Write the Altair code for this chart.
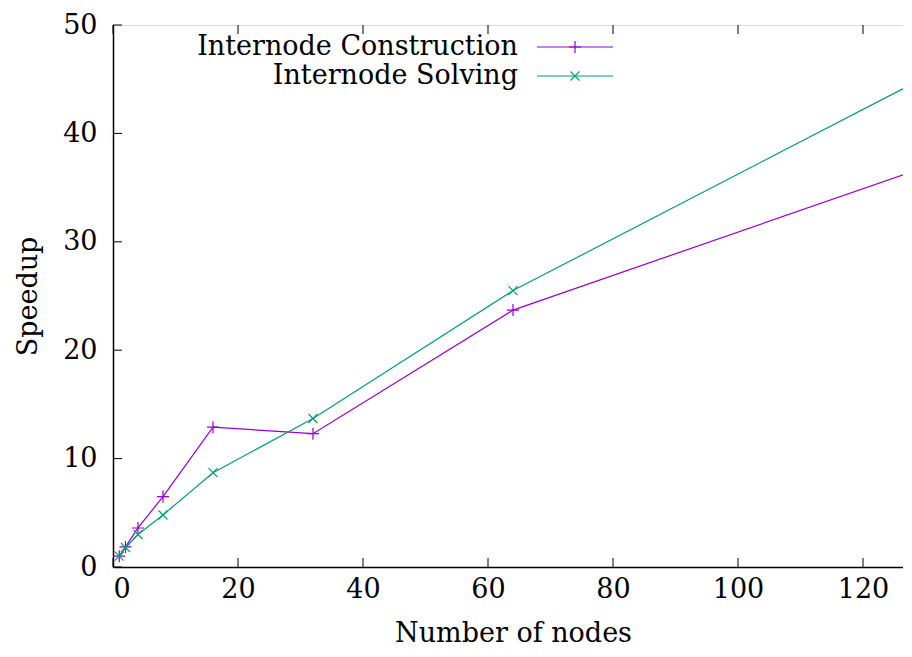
import altair as alt
import pandas as pd

nodes = [1, 2, 4, 8, 16, 32, 64, 128]
construction = [1.0, 1.85, 3.6, 6.5, 12.9, 12.3, 23.7, 36.5]
solving = [1.0, 1.8, 3.0, 4.8, 8.7, 13.7, 25.5, 44.6]
series_names = ["Internode Construction", "Internode Solving"]
colors = ["#9400d3", "#009e73"]
x_ticks = [0, 20, 40, 60, 80, 100, 120]
y_ticks = [0, 10, 20, 30, 40, 50]

W, H = 800, 542
FONT = "DejaVu Serif"
FS = 27

PLUS = "M-1,0L1,0M0,-1L0,1"
CROSS = "M-0.75,-0.75L0.75,0.75M-0.75,0.75L0.75,-0.75"
shapes = [PLUS, CROSS]

rows = []
for n, c, s in zip(nodes, construction, solving):
    rows.append({"nodes": n, "speedup": c, "series": series_names[0]})
    rows.append({"nodes": n, "speedup": s, "series": series_names[1]})
df = pd.DataFrame(rows)

xscale = alt.Scale(domain=[0, 128], nice=False, zero=False)
yscale = alt.Scale(domain=[0, 50], nice=False)

xaxis = alt.Axis(values=x_ticks, ticks=False, grid=False, labelFont=FONT, labelFontSize=FS,
                 labelColor="black", labelPadding=9, title="Number of nodes",
                 titleFont=FONT, titleFontSize=FS, titleFontWeight="normal",
                 titleColor="black", titlePadding=18, domainColor="black", domainWidth=1.5)
yaxis = alt.Axis(values=y_ticks, ticks=False, grid=False, labelFont=FONT, labelFontSize=FS,
                 labelColor="black", labelPadding=16, title="Speedup",
                 titleFont=FONT, titleFontSize=FS, titleFontWeight="normal",
                 titleColor="black", titlePadding=20, domainColor="black", domainWidth=1.5)

layers = []
for i, name in enumerate(series_names):
    sub = df[df.series == name]
    base = alt.Chart(sub)
    line = base.mark_line(color=colors[i], strokeWidth=1.2).encode(
        x=alt.X("nodes:Q", scale=xscale, axis=xaxis),
        y=alt.Y("speedup:Q", scale=yscale, axis=yaxis),
    )
    pts = base.mark_point(shape=shapes[i], color=colors[i], filled=False, size=144,
                          strokeWidth=1.2, opacity=1).encode(
        x=alt.X("nodes:Q", scale=xscale),
        y=alt.Y("speedup:Q", scale=yscale),
    )
    layers += [line, pts]

    # legend (gnuplot style: label then sample line with marker)
    ly = 22 + i * 29
    leg = pd.DataFrame({"label": [name]})
    layers.append(alt.Chart(leg).mark_text(font=FONT, fontSize=FS, align="right",
                                           baseline="middle", color="black").encode(
        x=alt.value(405), y=alt.value(ly), text="label:N"))
    layers.append(alt.Chart(leg).mark_rule(color=colors[i], strokeWidth=1.2).encode(
        x=alt.value(424), x2=alt.value(500), y=alt.value(ly)))
    layers.append(alt.Chart(leg).mark_point(shape=shapes[i], color=colors[i], filled=False,
                                            size=144, strokeWidth=1.2, opacity=1).encode(
        x=alt.value(462), y=alt.value(ly)))

xt = pd.DataFrame({"t": x_ticks})
yt = pd.DataFrame({"t": y_ticks})
tick_len = 9
layers.append(alt.Chart(xt).mark_rule(color="black", strokeWidth=1).encode(
    x=alt.X("t:Q", scale=xscale), y=alt.value(H), y2=alt.value(H - tick_len)))
layers.append(alt.Chart(xt).mark_rule(color="black", strokeWidth=1).encode(
    x=alt.X("t:Q", scale=xscale), y=alt.value(0), y2=alt.value(tick_len)))
layers.append(alt.Chart(yt).mark_rule(color="black", strokeWidth=1).encode(
    y=alt.Y("t:Q", scale=yscale), x=alt.value(0), x2=alt.value(tick_len)))
layers.append(alt.Chart(yt).mark_rule(color="black", strokeWidth=1).encode(
    y=alt.Y("t:Q", scale=yscale), x=alt.value(W - tick_len), x2=alt.value(W)))

chart = alt.layer(*layers).properties(
    width=W, height=H,
    autosize=alt.AutoSizeParams(type="none"),
    padding={"left": 105, "top": 17, "right": -10, "bottom": 85},
).configure_view(stroke="black", strokeWidth=1.5).configure(background="white")

chart.save("out.html", embed_options={"renderer": "svg", "actions": False})
